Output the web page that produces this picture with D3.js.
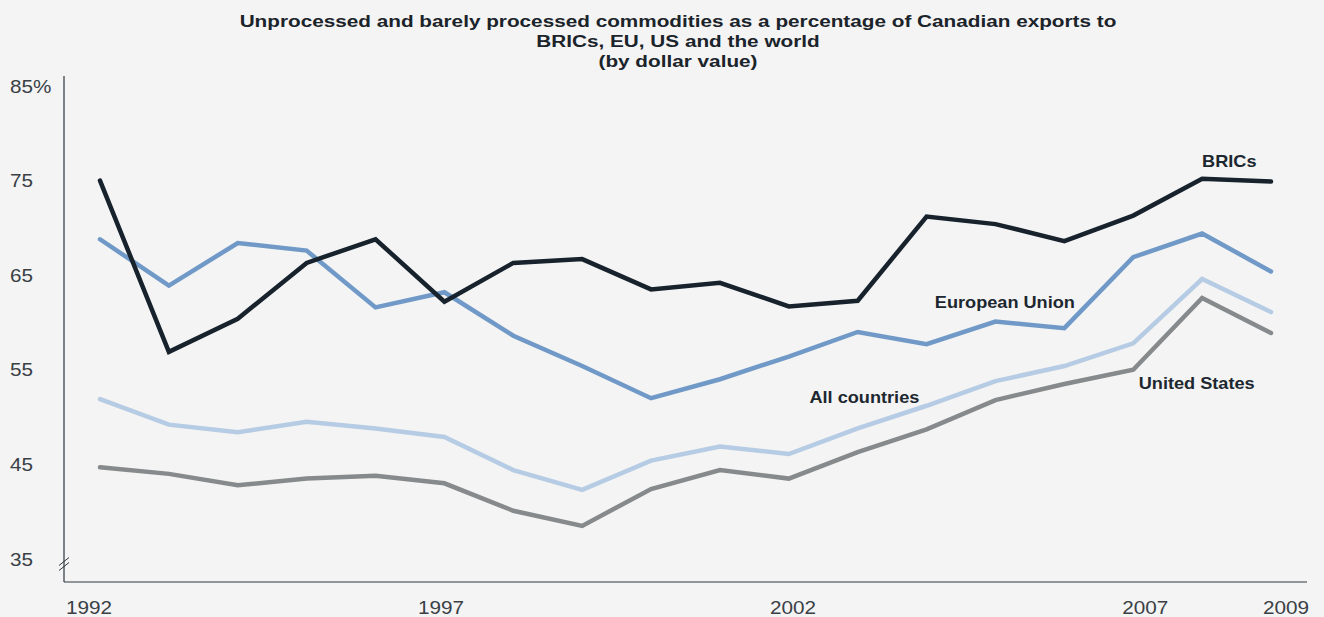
<!DOCTYPE html>
<html><head><meta charset="utf-8">
<script src="https://cdn.jsdelivr.net/npm/d3@7"></script>
<style>
html,body{margin:0;padding:0;background:#f3f4f3;}
svg{display:block;}
</style></head>
<body>
<script>
const years = [1992,1993,1994,1995,1996,1997,1998,1999,2000,2001,2002,2003,2004,2005,2006,2007,2008,2009];
const brics = [75.0,56.9,60.4,66.3,68.8,62.2,66.3,66.7,63.5,64.2,61.7,62.3,71.2,70.4,68.6,71.3,75.2,74.9];
const eu    = [68.8,63.9,68.4,67.6,61.6,63.2,58.6,55.4,52.0,54.0,56.4,59.0,57.7,60.1,59.4,66.9,69.4,65.4];
const allc  = [51.9,49.2,48.4,49.5,48.8,47.9,44.4,42.3,45.4,46.9,46.1,48.8,51.2,53.8,55.4,57.8,64.6,61.1];
const us    = [44.7,44.0,42.8,43.5,43.8,43.0,40.1,38.5,42.4,44.4,43.5,46.3,48.7,51.8,53.5,55.0,62.6,58.9];
const yTicks = [35,45,55,65,75,85];
const yTickLabels = ["35","45","55","65","75","85%"];
const xTicks = [1992,1997,2002,2007,2009];
const titleLines = ["Unprocessed and barely processed commodities as a percentage of Canadian exports to","BRICs, EU, US and the world","(by dollar value)"];
const seriesNames = ["United States","All countries","European Union","BRICs"];
const seriesData = [us, allc, eu, brics];
const seriesColors = ["#878a8c","#b6cbe4","#7099c8","#17222c"];
const labelYears = [2007.08, 2002.3, 2004.12, 2008.0];
const labelVals = [53.0, 51.5, 61.5, 76.4];

const W=1324,H=617;
const FONT="Liberation Sans, Arial, sans-serif";
const svg=d3.select("body").append("svg").attr("width",W).attr("height",H);
svg.append("rect").attr("width",W).attr("height",H).attr("fill","#f3f4f3");

const x=d3.scaleLinear().domain([1992,2009]).range([100,1271]);
const xLab=d3.scaleLinear().domain([1992,2009]).range([66,1263]);
const y=d3.scaleLinear().domain([35,85]).range([559,86]);
const axisLeftX=64, axisBottomY=582;

// title
svg.append("g").selectAll("text").data(titleLines).join("text")
  .attr("transform",(d,i)=>`translate(678,${27+i*20}) scale(1.22,1)`)
  .attr("text-anchor","middle")
  .attr("font-family",FONT)
  .attr("font-weight","bold").attr("font-size",17).attr("fill","#1b232b")
  .text(d=>d);

// axes lines
svg.append("line").attr("x1",axisLeftX).attr("x2",axisLeftX).attr("y1",76).attr("y2",axisBottomY)
  .attr("stroke","#2d3640").attr("stroke-width",1.2);
svg.append("line").attr("x1",axisLeftX).attr("x2",1307).attr("y1",axisBottomY).attr("y2",axisBottomY)
  .attr("stroke","#2d3640").attr("stroke-width",1.2);
// break marks
const yb=y(35)+5;
[-2.5,2.5].forEach(o=>{
  svg.append("line").attr("x1",axisLeftX-5).attr("y1",yb+o+4).attr("x2",axisLeftX+5).attr("y2",yb+o-4)
    .attr("stroke","#2d3640").attr("stroke-width",1);
});

// y tick labels
svg.append("g").selectAll("text").data(yTicks).join("text")
  .attr("transform",d=>`translate(10,${y(d)+6.5}) scale(1.15,1)`)
  .attr("font-family",FONT)
  .attr("font-size",18).attr("fill","#3a4046")
  .text((d,i)=>yTickLabels[i]);

// x tick labels
svg.append("g").selectAll("text").data(xTicks).join("text")
  .attr("transform",d=>`translate(${xLab(d)},614) scale(1.15,1)`)
  .attr("font-family",FONT)
  .attr("font-size",18).attr("fill","#3a4046")
  .text(d=>d);

// lines
const line=d3.line().x((d,i)=>x(years[i])).y(d=>y(d)).curve(d3.curveLinear);
svg.append("g").selectAll("path").data(seriesData).join("path")
  .attr("d",d=>line(d)).attr("fill","none")
  .attr("stroke",(d,i)=>seriesColors[i]).attr("stroke-width",4.5)
  .attr("stroke-linejoin","miter").attr("stroke-linecap","round");

// series labels
svg.append("g").selectAll("text").data(seriesNames).join("text")
  .attr("transform",(d,i)=>`translate(${x(labelYears[i])},${y(labelVals[i])}) scale(1.1,1)`)
  .attr("font-family",FONT)
  .attr("font-weight","bold").attr("font-size",16.5).attr("fill","#1d2730")
  .text(d=>d);
</script>
</body></html>
